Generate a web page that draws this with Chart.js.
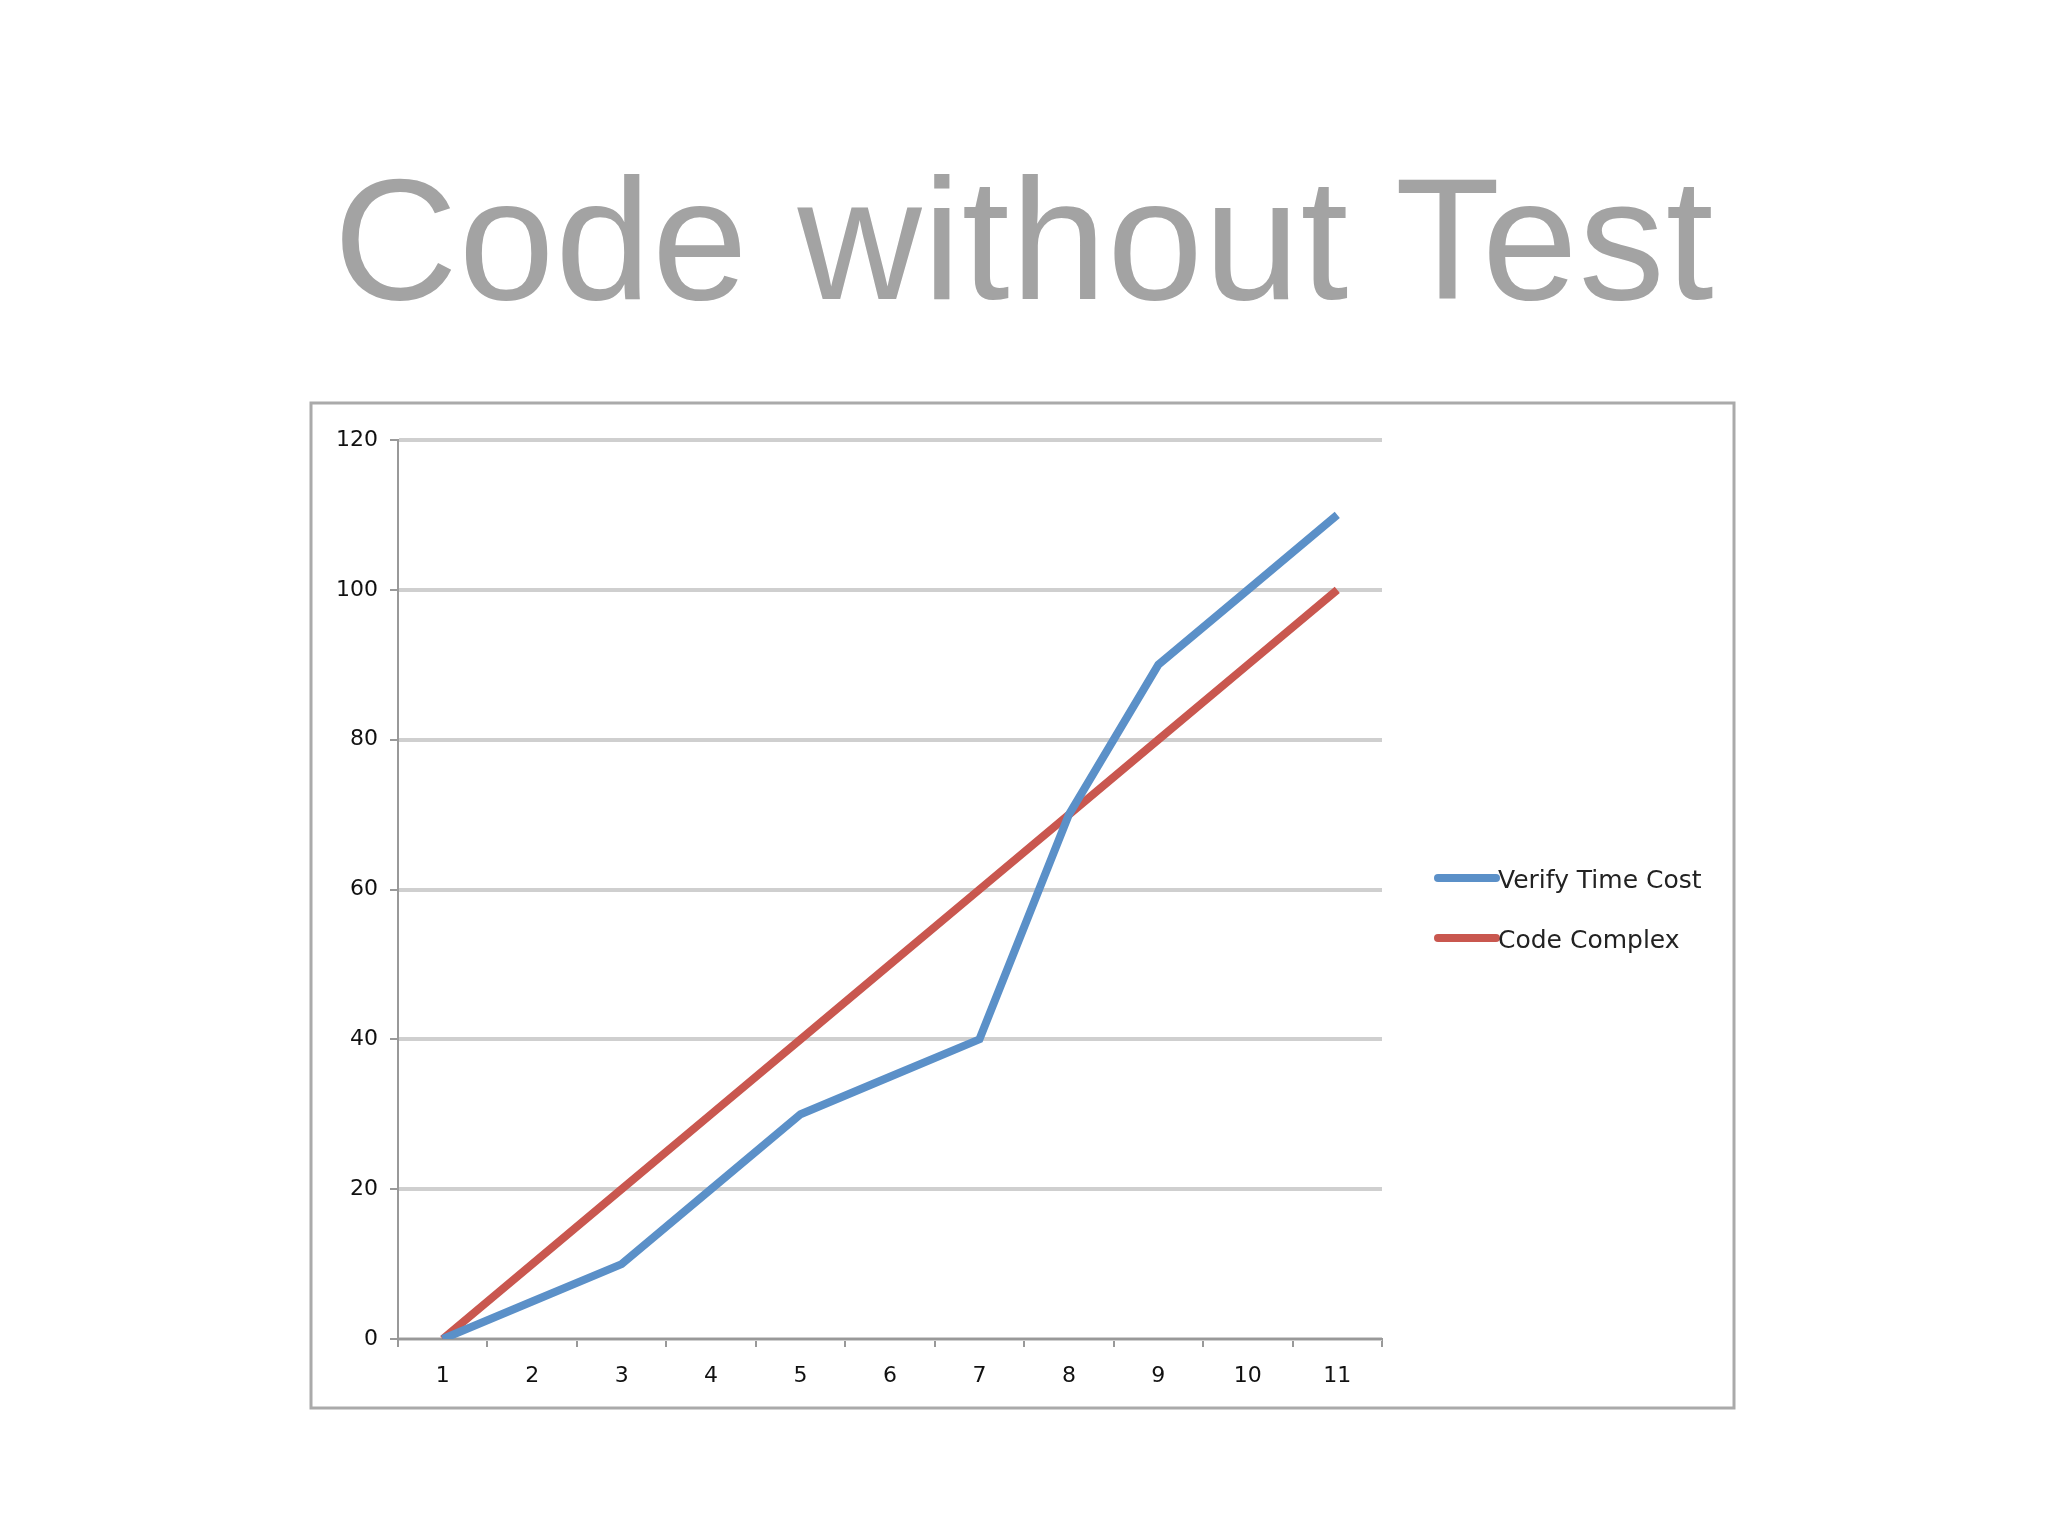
<!DOCTYPE html>
<html><head><meta charset="utf-8">
<script src="https://cdn.jsdelivr.net/npm/chart.js@4"></script>
<style>
html,body{margin:0;padding:0;background:#fff;width:2048px;height:1536px;overflow:hidden}
#t{position:absolute;z-index:2;left:0;top:140px;width:2048px;text-align:center;font-family:"Liberation Sans",Arial,sans-serif;font-size:172px;color:#a3a3a3;font-weight:normal;letter-spacing:1px}
canvas{position:absolute;left:0;top:0;z-index:1}
</style></head><body>
<div id="t">Code without Test</div>
<canvas id="c" width="2048" height="1536"></canvas>
<script>
const categories=['1','2','3','4','5','6','7','8','9','10','11'];
const verifyTimeCost=[0,5,10,20,30,35,40,70,90,100,110];
const codeComplex=[0,10,20,30,40,50,60,70,80,90,100];
const seriesNames=['Verify Time Cost','Code Complex'];
const colors=['#5b90c8','#c9574f'];
const frame={
  id:'frame',
  beforeDraw(ch){const c=ch.ctx;c.save();c.fillStyle='#fff';c.fillRect(0,0,2048,1536);c.strokeStyle='#aaa';c.lineWidth=3;c.strokeRect(311,403,1423,1005);c.restore();},
  afterDraw(ch){const c=ch.ctx;c.save();c.font='25px "DejaVu Sans",sans-serif';c.textBaseline='middle';
    ch.data.datasets.forEach((d,i)=>{const y=878+i*60;c.strokeStyle=d.borderColor;c.lineWidth=8;c.lineCap='round';c.beginPath();c.moveTo(1438,y);c.lineTo(1496,y);c.stroke();c.fillStyle='#222';c.fillText(d.label,1498,y+3);});
    c.restore();}
};
new Chart(document.getElementById('c'),{
  type:'line',
  data:{labels:categories,datasets:[
    {label:seriesNames[0],data:verifyTimeCost,borderColor:colors[0],borderWidth:8,pointRadius:0,tension:0},
    {label:seriesNames[1],data:codeComplex,borderColor:colors[1],borderWidth:8,pointRadius:0,tension:0}]},
  options:{responsive:false,animation:false,
    layout:{padding:{left:311,top:440,right:666,bottom:128}},
    plugins:{legend:{display:false},tooltip:{enabled:false}},
    scales:{
      x:{offset:true,afterFit(s){s.height=69;},
        grid:{offset:true,drawOnChartArea:false,drawTicks:true,tickLength:8,color:'#999',lineWidth:2},
        border:{color:'#999',width:2},
        ticks:{color:'#111',font:{size:22,family:'"DejaVu Sans",sans-serif'},padding:16}},
      y:{min:0,max:120,afterFit(s){s.width=87;},
        ticks:{stepSize:20,color:'#111',font:{size:22,family:'"DejaVu Sans",sans-serif'},padding:12},
        grid:{color:'#cfcfcf',lineWidth:4,tickLength:8,tickColor:'#999',tickWidth:2},
        border:{color:'#999',width:2}}}},
  plugins:[frame]
});
</script></body></html>
